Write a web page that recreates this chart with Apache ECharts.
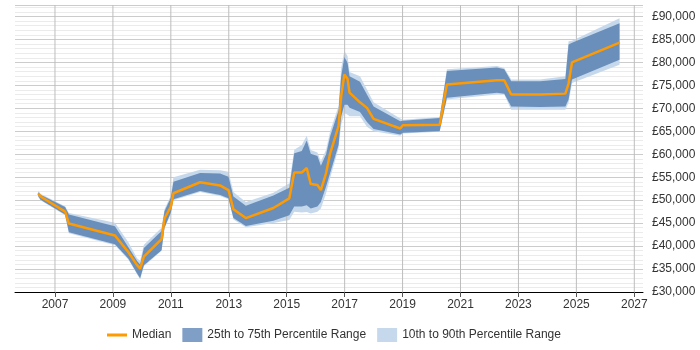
<!DOCTYPE html>
<html>
<head>
<meta charset="utf-8">
<script src="https://cdn.jsdelivr.net/npm/echarts@6/dist/echarts.min.js"></script>
<style>html,body{margin:0;padding:0;background:#fff}#c{width:700px;height:350px}</style>
</head>
<body>
<div id="c"></div>
<script>
// Decimal-year positions of each data point
const years = [2006.42,2006.50,2007.35,2007.48,2009.07,2009.53,2009.84,2009.94,2010.07,2010.68,2010.78,2011.00,2011.09,2012.01,2012.70,2012.99,2013.16,2013.59,2014.54,2015.09,2015.26,2015.52,2015.69,2015.83,2016.06,2016.18,2016.36,2016.50,2016.79,2016.88,2016.99,2017.10,2017.17,2017.53,2017.77,2018.00,2018.92,2019.01,2020.28,2020.53,2022.26,2022.51,2022.75,2023.75,2024.62,2024.73,2024.85,2026.49];
const median = [51500,50800,47500,44900,42300,38700,35800,35100,37700,41500,46000,48600,51500,53900,53200,52200,48000,46100,48300,50400,56000,56000,57000,53500,53300,52200,55900,60200,66100,72600,77400,76400,73400,71300,70100,67700,65600,66300,66400,75200,76100,76100,73000,73000,73200,75400,80000,84300];
const p25 = [50900,50100,46900,43000,40400,37300,34000,33000,35800,39100,44000,47300,50200,52000,51100,50400,46100,44400,45500,46700,48600,48600,48900,48200,48600,49600,53000,55900,62000,68200,70800,70800,70100,69200,67000,65500,64300,64700,65000,72300,73400,73200,70400,70300,70400,71900,76300,80600];
const p75 = [51700,51200,48500,46900,44300,39800,36700,36000,39600,43300,47600,50500,54000,55900,55800,55100,50800,48800,51000,52700,60200,60700,63000,60100,59600,57500,60000,63900,69500,77000,81200,79900,77000,75800,73000,70400,67200,67300,67900,78100,78900,78500,75900,75900,76400,83900,84300,88500];
const p10 = [50700,50000,46700,42800,40200,37100,33800,32800,35600,39000,43800,47000,50000,51800,50900,50200,45800,44100,45000,45700,47500,47300,47400,47100,47500,48200,51500,54800,61300,66400,69000,68600,68300,68300,66000,65000,64000,64500,64900,71900,73000,73000,69700,69700,69700,71200,75500,79500];
const p90 = [52000,51400,48700,47200,45100,40900,37300,36800,40300,44000,48000,51000,55000,56600,56500,56200,51800,49600,51600,53700,61000,62000,64000,60900,60400,58400,61000,65000,70500,78800,82500,81400,77900,77000,74100,71300,67800,67500,68100,78500,79200,78800,76300,76300,77000,84600,84700,89600];
const xTicks = [2007,2009,2011,2013,2015,2017,2019,2021,2023,2025,2027];

const names = {
  med: 'Median',
  mid: '25th to 75th Percentile Range',
  wide: '10th to 90th Percentile Range'
};
const lightCol = '#c6d9ec';
const darkCol = '#6a8fbb';
const orange = '#ff9a00';
const font = 'Liberation Sans, Arial, sans-serif';
const Y_MIN = 30000, Y_MAX = 92500;

const pairs = arr => years.map((y, i) => [y, arr[i]]);

function bandRenderer(lowArr, highArr, color) {
  return function (params, api) {
    if (params.dataIndex !== 0) return null;
    const upper = years.map((y, i) => api.coord([y, highArr[i]]));
    const lower = years.map((y, i) => api.coord([y, lowArr[i]])).reverse();
    return {
      type: 'polygon',
      shape: { points: upper.concat(lower) },
      style: { fill: color, stroke: null }
    };
  };
}

// vertical year grid lines as plain two-point line series
const yearGridSeries = xTicks.map(v => ({
  name: 'grid' + v, type: 'line', symbol: 'none', silent: true, z: 2,
  data: [[v, Y_MIN], [v, Y_MAX]],
  lineStyle: { color: '#bdbdbd', width: 1 },
  itemStyle: { color: '#bdbdbd' },
  emphasis: { disabled: true }, tooltip: { show: false }
}));

const chart = echarts.init(document.getElementById('c'), null, { renderer: 'canvas' });
chart.setOption({
  animation: false,
  grid: { left: 15, right: 57, top: 5, bottom: 58 },
  legend: {
    bottom: 3, left: 102, itemWidth: 20, itemHeight: 14, itemGap: 11,
    textStyle: { color: '#333', fontSize: 12, fontFamily: font },
    data: [
      { name: names.med, icon: 'path://M0,0 L20,0 L20,3 L0,3 Z', itemStyle: { color: orange } },
      { name: names.mid, icon: 'rect', itemStyle: { color: '#7f9fc6' } },
      { name: names.wide, icon: 'rect', itemStyle: { color: lightCol } }
    ]
  },
  xAxis: {
    type: 'value', min: 2005.62, max: 2027.30,
    axisLine: { show: true, lineStyle: { color: '#000', width: 1 } },
    axisTick: { show: true, length: 5, customValues: xTicks, lineStyle: { color: '#555' } },
    axisLabel: { customValues: xTicks, color: '#333', fontSize: 12, margin: 7,
      fontFamily: font, formatter: v => String(Math.round(v)) },
    splitLine: { show: false }
  },
  yAxis: {
    type: 'value', position: 'right', min: Y_MIN, max: Y_MAX, interval: 5000,
    axisLine: { show: false }, axisTick: { show: false },
    axisLabel: { color: '#333', fontSize: 12, margin: 9, showMaxLabel: false,
      fontFamily: font, formatter: v => '£' + v.toLocaleString('en-GB') },
    splitLine: { show: true, lineStyle: { color: '#cccccc', width: 1 } },
    minorTick: { show: false, splitNumber: 5 },
    minorSplitLine: { show: true, lineStyle: { color: '#ebebeb', width: 1 } }
  },
  series: yearGridSeries.concat([
    { name: names.wide, type: 'custom', silent: true, z: 2,
      itemStyle: { color: lightCol },
      renderItem: bandRenderer(p10, p90, lightCol), data: pairs(median),
      encode: { x: 0, y: 1 } },
    { name: names.mid, type: 'custom', silent: true, z: 3,
      itemStyle: { color: darkCol },
      renderItem: bandRenderer(p25, p75, darkCol), data: pairs(median),
      encode: { x: 0, y: 1 } },
    { name: names.med, type: 'line', symbol: 'none', data: pairs(median), z: 5,
      itemStyle: { color: orange }, lineStyle: { color: orange, width: 2.5 } }
  ])
});
</script>
</body>
</html>
